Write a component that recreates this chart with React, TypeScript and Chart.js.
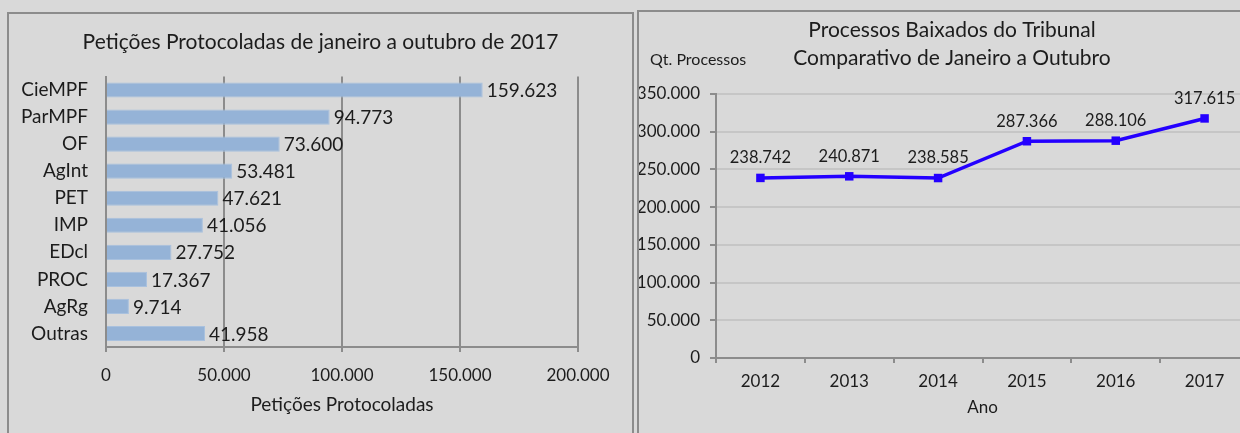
import React, { useEffect, useRef } from "react";
import { Chart, registerables } from "chart.js";

Chart.register(...registerables);

const petTitle = "Petições Protocoladas de janeiro a outubro de 2017";
const petCategories = ["CieMPF", "ParMPF", "OF", "AgInt", "PET", "IMP", "EDcl", "PROC", "AgRg", "Outras"];
const petValues = [159623, 94773, 73600, 53481, 47621, 41056, 27752, 17367, 9714, 41958];
const petTicks = [0, 50000, 100000, 150000, 200000];

const procTitle = ["Processos Baixados do Tribunal", "Comparativo de Janeiro a Outubro"];
const procYears = ["2012", "2013", "2014", "2015", "2016", "2017"];
const procValues = [238742, 240871, 238585, 287366, 288106, 317615];

const FONT = "Lato, 'Open Sans', sans-serif";
const TEXT = "#1c1c1c";
const AXIS = "#8c8c8c";

function fmt(v: number): string {
  return String(Math.round(v)).replace(/\B(?=(\d{3})+(?!\d))/g, ".");
}

const barLabels = {
  id: "barLabels",
  afterDatasetsDraw(chart: any) {
    const ctx = chart.ctx;
    const meta = chart.getDatasetMeta(0);
    ctx.save();
    ctx.font = `19px ${FONT}`;
    ctx.fillStyle = TEXT;
    ctx.textAlign = "left";
    ctx.textBaseline = "middle";
    meta.data.forEach((el: any, i: number) => {
      ctx.fillText(fmt(chart.data.datasets[0].data[i]), el.x + 4, el.y + 1);
    });
    ctx.font = `21px ${FONT}`;
    ctx.textAlign = "center";
    ctx.fillText(petTitle, chart.width / 2, 28);
    ctx.restore();
  },
};

const lineLabels = {
  id: "lineLabels",
  afterDatasetsDraw(chart: any) {
    const ctx = chart.ctx;
    const meta = chart.getDatasetMeta(0);
    ctx.save();
    ctx.font = `16.5px ${FONT}`;
    ctx.fillStyle = TEXT;
    ctx.textAlign = "center";
    ctx.textBaseline = "middle";
    meta.data.forEach((el: any, i: number) => {
      ctx.fillText(fmt(chart.data.datasets[0].data[i]), el.x, el.y - 20);
    });
    ctx.font = `21px ${FONT}`;
    procTitle.forEach((t, i) => ctx.fillText(t, chart.width / 2, 18 + i * 28));
    ctx.font = `16px ${FONT}`;
    ctx.textAlign = "left";
    ctx.fillText("Qt. Processos", 11, 48);
    ctx.restore();
  },
};

function LeftChart() {
  const ref = useRef<HTMLCanvasElement>(null);
  useEffect(() => {
    const chart = new Chart(ref.current as HTMLCanvasElement, {
      type: "bar",
      data: {
        labels: petCategories,
        datasets: [
          {
            data: petValues,
            backgroundColor: "#95b3d7",
            borderColor: "#a9c1de",
            borderWidth: 1,
            barPercentage: 0.56,
            categoryPercentage: 1,
          },
        ],
      },
      options: {
        indexAxis: "y",
        animation: false,
        responsive: false,
        layout: { padding: { left: 0, right: 54, top: 62.5, bottom: 16 } },
        plugins: {
          legend: { display: false },
          tooltip: { enabled: false },
          title: { display: false },
        },
        scales: {
          y: {
            grid: { display: false, drawTicks: false, tickLength: 0 },
            border: { display: true, color: AXIS, width: 2 },
            ticks: { color: TEXT, padding: 18, font: { family: FONT, size: 19 } },
            afterFit: (s: any) => {
              s.width = 97;
            },
          },
          x: {
            min: 0,
            max: 200000,
            afterBuildTicks: (s: any) => {
              s.ticks = petTicks.map((v) => ({ value: v }));
            },
            grid: { color: AXIS, lineWidth: 2, tickLength: 5, drawTicks: true },
            border: { display: true, color: AXIS, width: 2 },
            ticks: {
              color: TEXT,
              padding: 13.8,
              font: { family: FONT, size: 17 },
              callback: (v: any) => fmt(Number(v)),
            },
            title: {
              display: true,
              text: "Petições Protocoladas",
              color: TEXT,
              font: { family: FONT, size: 19 },
              padding: { top: 0, bottom: 0.6 },
            },
            afterFit: (s: any) => {
              s.height = 70;
            },
          },
        },
      },
      plugins: [barLabels],
    } as any);
    return () => chart.destroy();
  }, []);
  return <canvas ref={ref} width={623} height={419} style={{ display: "block", width: 623, height: 419 }} />;
}

function RightChart() {
  const ref = useRef<HTMLCanvasElement>(null);
  useEffect(() => {
    const chart = new Chart(ref.current as HTMLCanvasElement, {
      type: "line",
      data: {
        labels: procYears,
        datasets: [
          {
            data: procValues,
            borderColor: "#2400ff",
            backgroundColor: "#2400ff",
            borderWidth: 3.5,
            pointStyle: "rect",
            pointRadius: 6,
            pointBorderWidth: 0,
            pointBackgroundColor: "#2400ff",
            tension: 0,
          },
        ],
      },
      options: {
        animation: false,
        responsive: false,
        layout: { padding: { left: 0, right: 16, top: 82, bottom: 13 } },
        plugins: {
          legend: { display: false },
          tooltip: { enabled: false },
          title: { display: false },
        },
        scales: {
          y: {
            min: 0,
            max: 350000,
            ticks: {
              stepSize: 50000,
              color: TEXT,
              padding: 10,
              font: { family: FONT, size: 17 },
              callback: (v: any) => fmt(Number(v)),
            },
            grid: { color: "#c6c6c6", lineWidth: 2, tickLength: 6, tickColor: AXIS, tickWidth: 2 },
            border: { display: true, color: AXIS, width: 2 },
            afterFit: (s: any) => {
              s.width = 77;
            },
          },
          x: {
            offset: true,
            grid: { offset: true, drawOnChartArea: false, drawTicks: true, tickLength: 5, color: AXIS, lineWidth: 2 },
            border: { display: true, color: AXIS, width: 2 },
            ticks: { color: TEXT, padding: 8.8, font: { family: FONT, size: 17 } },
            title: {
              display: true,
              text: "Ano",
              color: TEXT,
              font: { family: FONT, size: 17 },
              padding: { top: 0, bottom: 1.8 },
            },
            afterFit: (s: any) => {
              s.height = 62;
            },
          },
        },
      },
      plugins: [lineLabels],
    } as any);
    return () => chart.destroy();
  }, []);
  return <canvas ref={ref} width={626} height={421} style={{ display: "block", width: 626, height: 421 }} />;
}

export default function App() {
  return (
    <div
      style={{
        position: "fixed",
        left: 0,
        top: 0,
        width: 1240,
        height: 433,
        background: "#d9d9d9",
        overflow: "hidden",
      }}
    >
      <div
        style={{
          position: "absolute",
          left: 7,
          top: 12,
          width: 627,
          height: 440,
          border: `2px solid ${AXIS}`,
          boxSizing: "border-box",
        }}
      >
        <LeftChart />
      </div>
      <div
        style={{
          position: "absolute",
          left: 637,
          top: 10,
          width: 640,
          height: 440,
          border: `2px solid ${AXIS}`,
          boxSizing: "border-box",
        }}
      >
        <RightChart />
      </div>
    </div>
  );
}
